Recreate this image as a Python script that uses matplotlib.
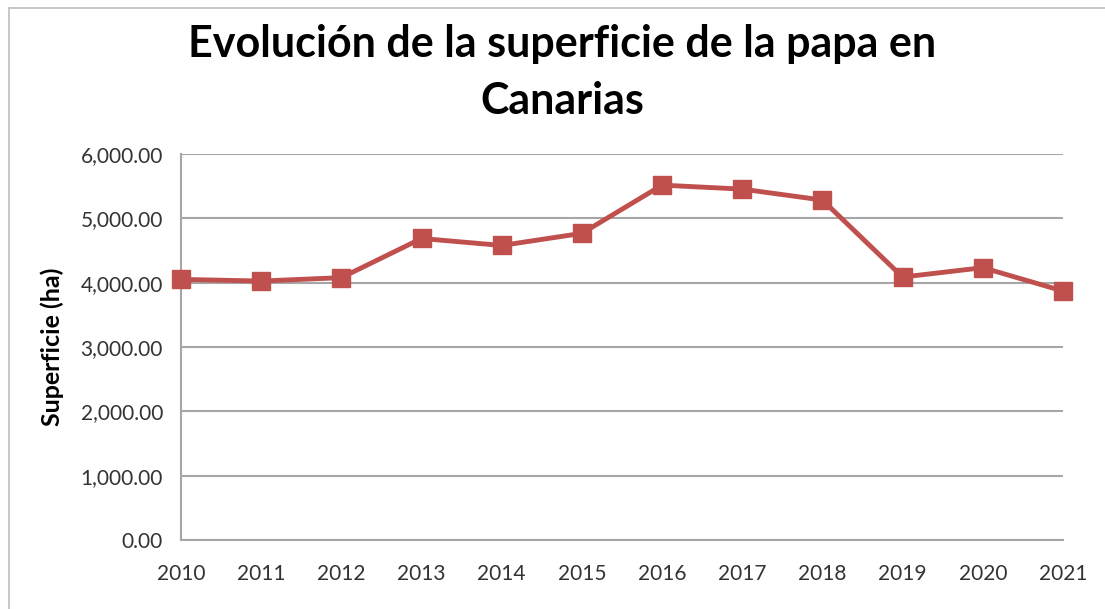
import matplotlib.pyplot as plt
from matplotlib.lines import Line2D
from matplotlib.ticker import FuncFormatter

''' Data '''
years = [2010, 2011, 2012, 2013, 2014, 2015, 2016, 2017, 2018, 2019, 2020, 2021]
superficie = [4051, 4025, 4078, 4687, 4578, 4767, 5516, 5454, 5284, 4087, 4233, 3870]
y_ticks = [0, 1000, 2000, 3000, 4000, 5000, 6000]

title = 'Evolución de la superficie de la papa en\nCanarias'
y_label = 'Superficie (ha)'

line_color = '#C0504D'
grid_color = '#A6A6A6'
font = ['Lato', 'DejaVu Sans']

''' Figure '''
fig = plt.figure(figsize=(11.05, 6.09), dpi=100)
ax = fig.add_axes([181 / 1105, 69 / 609, 882 / 1105, 386 / 609])

# chart border (only top and left edges are visible in the reference)
bx, by = 9 / 1105, 1 - 8 / 609
fig.add_artist(Line2D([bx, 1], [by, by], transform=fig.transFigure,
                      color='#BFBFBF', linewidth=1.2))
fig.add_artist(Line2D([bx, bx], [0, by], transform=fig.transFigure,
                      color='#BFBFBF', linewidth=1.2))

ax.plot(years, superficie, color=line_color, linewidth=3.5, marker='s',
        markersize=12.5, clip_on=False, zorder=3)

ax.set_xlim(years[0], years[-1])
ax.set_ylim(0, 6000)
ax.set_xticks(years)
ax.set_yticks(y_ticks)
ax.yaxis.set_major_formatter(FuncFormatter(lambda v, p: f'{v:,.2f}'))

ax.grid(axis='y', color=grid_color, linewidth=1.5)
ax.set_axisbelow(True)
for side in ['top', 'right']:
    ax.spines[side].set_visible(False)
for side in ['left', 'bottom']:
    ax.spines[side].set_color(grid_color)
    ax.spines[side].set_linewidth(1.5)

ax.tick_params(axis='both', length=0, labelcolor='#333333')
ax.tick_params(axis='x', pad=17)
ax.tick_params(axis='y', pad=13)
for lbl in ax.get_xticklabels() + ax.get_yticklabels():
    lbl.set_family(font)
    lbl.set_fontsize(15)

ax.set_ylabel(y_label, fontsize=18, fontweight='bold', family=font, labelpad=12)

fig.text(0.509, 0.96, title, ha='center', va='top', fontsize=31,
         fontweight='bold', family=font, linespacing=1.5)

fig.savefig('out.png', dpi=100)
